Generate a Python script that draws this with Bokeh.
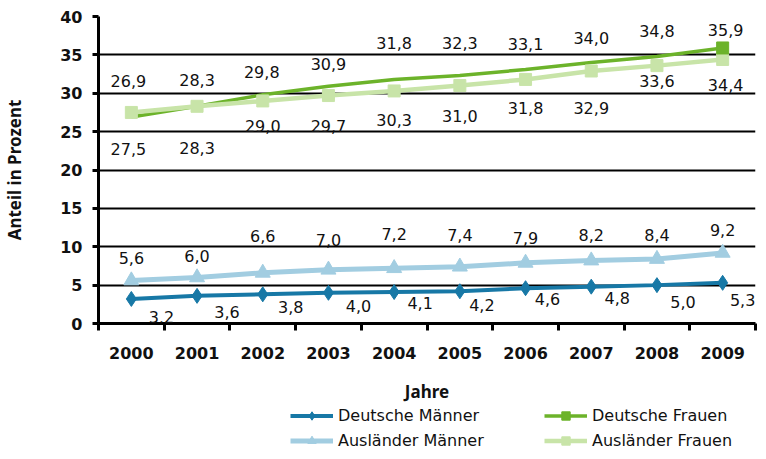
from bokeh.plotting import figure
from bokeh.layouts import column
from bokeh.models import (Range1d, FixedTicker, ColumnDataSource, LabelSet, Legend, LegendItem)
from bokeh.core.properties import value
from bokeh.embed import file_html
from bokeh.resources import INLINE

years = [2000, 2001, 2002, 2003, 2004, 2005, 2006, 2007, 2008, 2009]
deutsche_maenner = [3.2, 3.6, 3.8, 4.0, 4.1, 4.2, 4.6, 4.8, 5.0, 5.3]
auslaender_maenner = [5.6, 6.0, 6.6, 7.0, 7.2, 7.4, 7.9, 8.2, 8.4, 9.2]
deutsche_frauen = [26.9, 28.3, 29.8, 30.9, 31.8, 32.3, 33.1, 34.0, 34.8, 35.9]
auslaender_frauen = [27.5, 28.3, 29.0, 29.7, 30.3, 31.0, 31.8, 32.9, 33.6, 34.4]
y_ticks = [0, 5, 10, 15, 20, 25, 30, 35, 40]

# label placement (screen px) for each series, as in the original layout
dm_dx = [30, 30, 28, 30, 26, 22, 22, 26, 26, 20]
dm_dy = [-18, -16, -13, -13, -11, -14, -11, -11, -17, -17]
am_dx = [0] * 10
am_dy = [23, 21, 37, 30, 34, 32, 25, 26, 24, 23]
df_dx = [-3, 0, -1, 0, 0, 0, 0, 0, 0, 3]
df_dy = [36, 26, 23, 22, 36, 33, 25, 25, 25, 18]
af_dx = [-3, 0, 0, 0, 0, 0, 0, 0, 0, 3]
af_dy = [-37, -42, -25, -30, -29, -30, -29, -37, -15, -26]

C_DM = "#1778a6"
C_AM = "#a2cde1"
C_DF = "#6cb32a"
C_AF = "#c8e4a8"
FONT = "Noto Sans"
TFONT = "DejaVu Sans"

xs = [y - years[0] + 0.5 for y in years]

p = figure(width=758, height=405, output_backend="svg", toolbar_location=None,
           x_range=Range1d(0, len(years)), y_range=Range1d(0, 40),
           min_border_left=93, min_border_right=3, min_border_top=16, min_border_bottom=81)
p.outline_line_color = None
p.background_fill_color = "white"
p.border_fill_color = "white"

# grid
p.xgrid.visible = False
p.ygrid.grid_line_color = "black"
p.ygrid.grid_line_width = 2
p.yaxis.ticker = FixedTicker(ticks=y_ticks)

# y axis
ya = p.yaxis[0]
ya.axis_line_width = 3
ya.axis_line_color = "black"
ya.major_tick_out = 6
ya.major_tick_in = 0
ya.major_tick_line_width = 3
ya.minor_tick_line_color = None
ya.major_label_text_font = TFONT
ya.major_label_text_font_style = "bold"
ya.major_label_text_font_size = "16px"
ya.major_label_text_color = "#111111"
ya.major_label_standoff = 10
ya.axis_label = "Anteil in Prozent"
ya.axis_label_text_font = FONT
ya.axis_label_text_font_style = "bold"
ya.axis_label_text_font_size = "17px"
ya.axis_label_text_color = "#111111"
ya.axis_label_standoff = 31

# x axis
xa = p.xaxis[0]
xa.ticker = FixedTicker(ticks=xs, minor_ticks=list(range(len(years) + 1)))
xa.major_label_overrides = {x: str(y) for x, y in zip(xs, years)}
xa.axis_line_width = 3
xa.major_tick_line_color = None
xa.major_tick_out = 0
xa.major_tick_in = 0
xa.minor_tick_out = 7
xa.minor_tick_in = 0
xa.minor_tick_line_width = 3
xa.minor_tick_line_color = "black"
xa.major_label_text_font = TFONT
xa.major_label_text_font_style = "bold"
xa.major_label_text_font_size = "16px"
xa.major_label_text_color = "#111111"
xa.major_label_standoff = 16
xa.axis_label = "Jahre"
xa.axis_label_text_font = FONT
xa.axis_label_text_font_style = "bold"
xa.axis_label_text_font_size = "17px"
xa.axis_label_text_color = "#111111"
xa.axis_label_standoff = 18

def fmt(v):
    return f"{v:.1f}".replace(".", ",")

src = {}
for key, vals, dx, dy in [("dm", deutsche_maenner, dm_dx, dm_dy),
                          ("am", auslaender_maenner, am_dx, am_dy),
                          ("df", deutsche_frauen, df_dx, df_dy),
                          ("af", auslaender_frauen, af_dx, af_dy)]:
    src[key] = ColumnDataSource(dict(x=xs, y=vals, lab=[fmt(v) for v in vals], dx=dx, dy=dy))
df_last = ColumnDataSource(dict(x=xs[-1:], y=deutsche_frauen[-1:]))

STY = {
    "df_line": dict(line_color=C_DF, line_width=3.5),
    "af_line": dict(line_color=C_AF, line_width=4.5),
    "af_mark": dict(marker="square", size=12, fill_color=C_AF, line_color=C_AF),
    "df_mark": dict(marker="square", size=12, fill_color=C_DF, line_color=C_DF),
    "am_line": dict(line_color=C_AM, line_width=5),
    "am_mark": dict(marker="triangle", size=15, fill_color=C_AM, line_color=C_AM),
    "dm_line": dict(line_color=C_DM, line_width=4),
    "dm_mark": dict(marker="diamond", size=15, fill_color=C_DM, line_color=C_DM),
}

def draw(fig):
    r = {}
    r["df_line"] = fig.line("x", "y", source=src["df"], **STY["df_line"])
    r["af_line"] = fig.line("x", "y", source=src["af"], **STY["af_line"])
    r["af_mark"] = fig.scatter("x", "y", source=src["af"], **STY["af_mark"])
    r["df_mark"] = fig.scatter("x", "y", source=df_last, **STY["df_mark"])
    r["am_line"] = fig.line("x", "y", source=src["am"], **STY["am_line"])
    r["am_mark"] = fig.scatter("x", "y", source=src["am"], **STY["am_mark"])
    r["dm_line"] = fig.line("x", "y", source=src["dm"], **STY["dm_line"])
    r["dm_mark"] = fig.scatter("x", "y", source=src["dm"], **STY["dm_mark"])
    return r

draw(p)

for key in ["dm", "am", "df", "af"]:
    ls = LabelSet(x="x", y="y", text="lab", source=src[key], x_offset="dx", y_offset="dy",
                  text_align="center", text_baseline="middle",
                  text_font=value(TFONT), text_font_size=value("16px"), text_color="#111111")
    p.add_layout(ls)

# legend strip below the chart (its own renderers lie outside its visible range)
q = figure(width=758, height=46, output_backend="svg", toolbar_location=None,
           x_range=Range1d(1000, 1001), y_range=Range1d(1000, 1001),
           x_axis_type=None, y_axis_type=None,
           min_border_left=0, min_border_right=0, min_border_top=0, min_border_bottom=0)
q.outline_line_color = None
q.xgrid.visible = False
q.ygrid.visible = False
rq = draw(q)

def mk_legend(items, loc):
    lg = Legend(items=items, location=loc, orientation="vertical",
                glyph_width=43, glyph_height=21, label_height=21, spacing=4,
                label_standoff=5, padding=0, margin=0,
                label_text_font=TFONT, label_text_font_size="16px", label_text_color="#111111",
                border_line_color=None, background_fill_alpha=0)
    q.add_layout(lg, "center")

# q's frame is aligned with the chart frame (left edge at the y axis)
mk_legend([LegendItem(label="Deutsche Männer", renderers=[rq["dm_line"], rq["dm_mark"]]),
           LegendItem(label="Ausländer Männer", renderers=[rq["am_line"], rq["am_mark"]])], (192, 0))
mk_legend([LegendItem(label="Deutsche Frauen", renderers=[rq["df_line"], rq["df_mark"]]),
           LegendItem(label="Ausländer Frauen", renderers=[rq["af_line"], rq["af_mark"]])], (446, 0))

layout = column(p, q, spacing=0)
open("out.html", "w").write(file_html(layout, INLINE))
